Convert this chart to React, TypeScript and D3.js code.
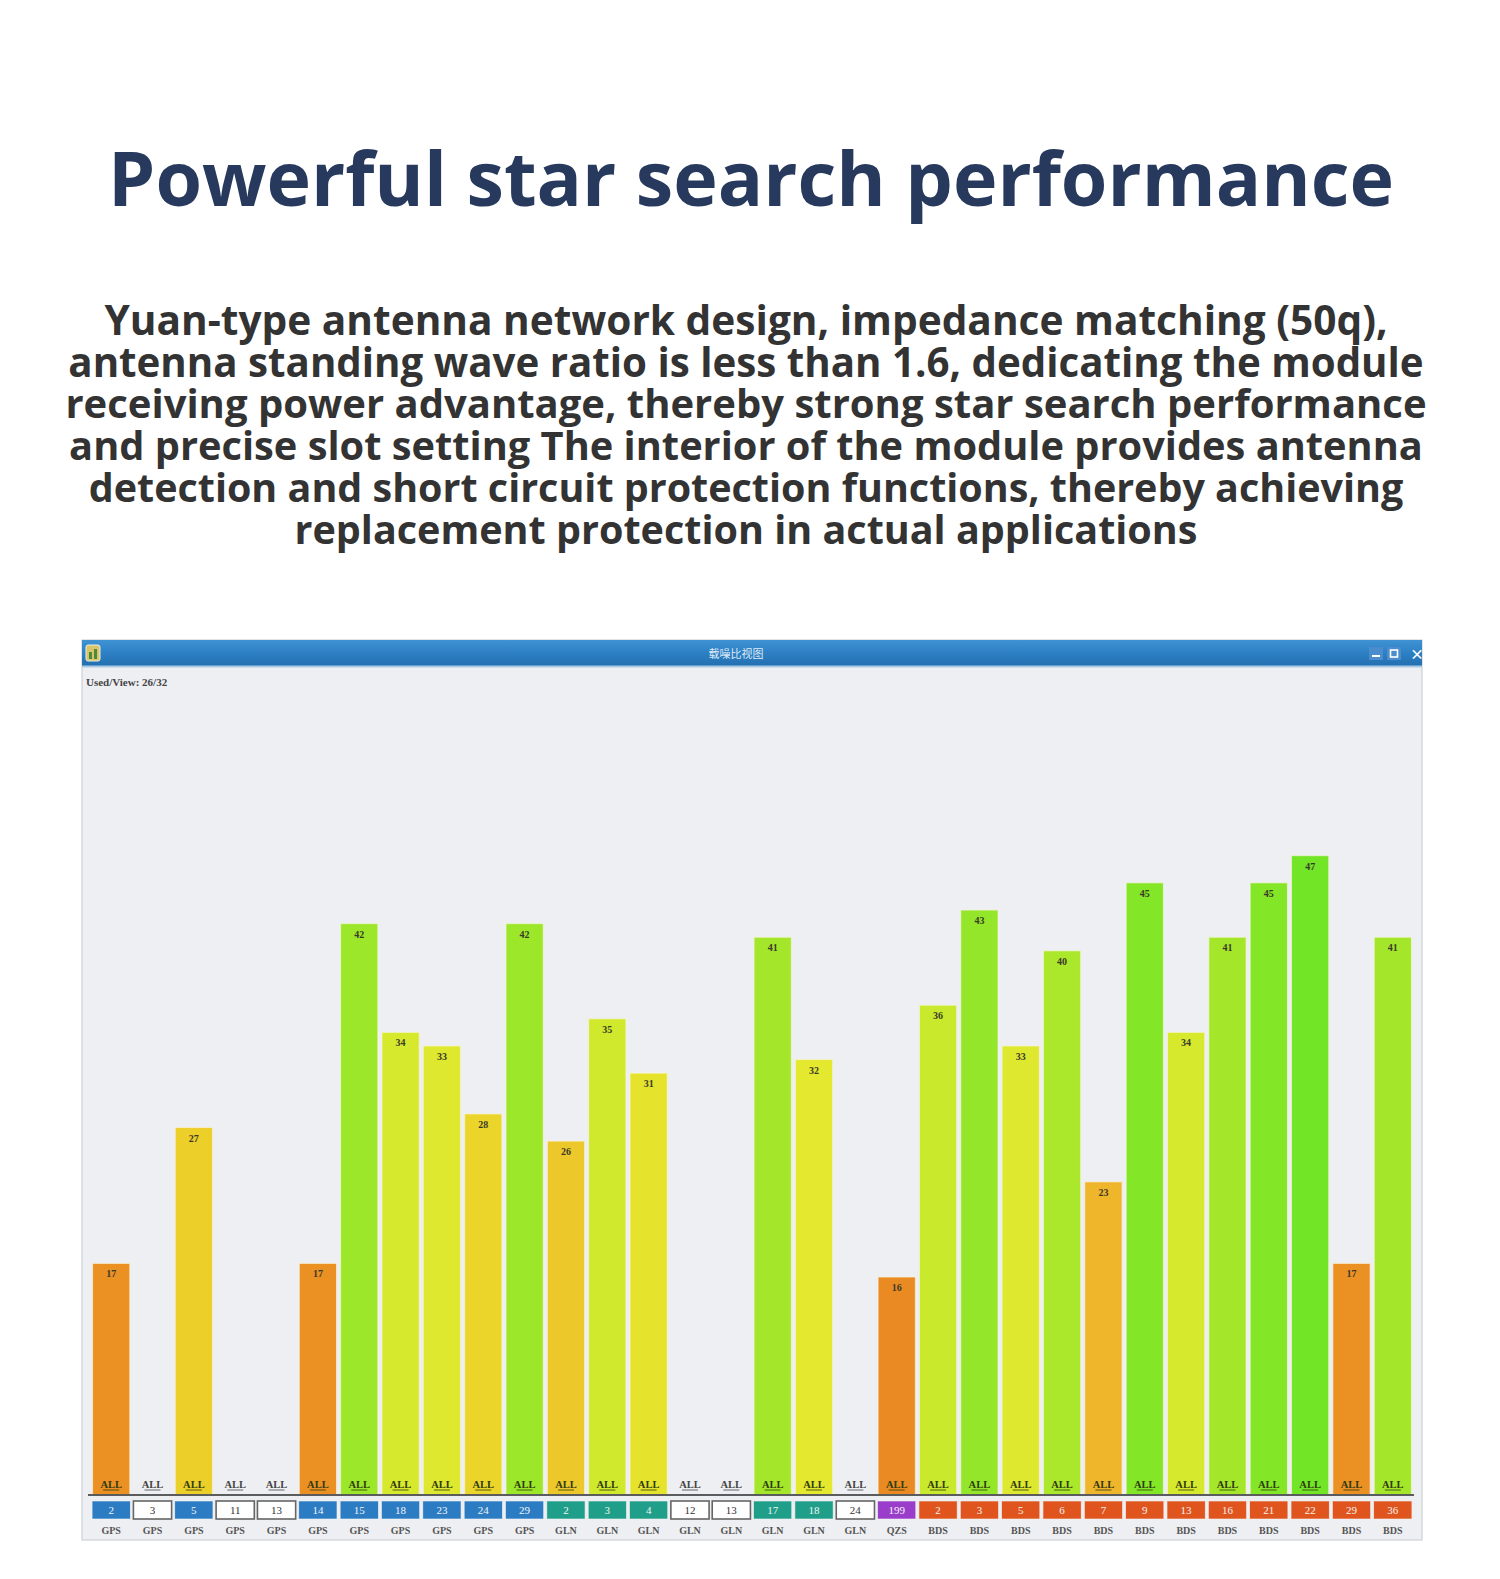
import * as d3 from "d3";
import React from "react";

// satellite list as shown in the viewer (left to right)
const systems = [
  "GPS", "GPS", "GPS", "GPS", "GPS", "GPS", "GPS", "GPS", "GPS", "GPS", "GPS",
  "GLN", "GLN", "GLN", "GLN", "GLN", "GLN", "GLN", "GLN",
  "QZS",
  "BDS", "BDS", "BDS", "BDS", "BDS", "BDS", "BDS", "BDS", "BDS", "BDS", "BDS", "BDS",
];
const prns = [
  2, 3, 5, 11, 13, 14, 15, 18, 23, 24, 29,
  2, 3, 4, 12, 13, 17, 18, 24,
  199,
  2, 3, 5, 6, 7, 9, 13, 16, 21, 22, 29, 36,
];
// carrier-to-noise values (0 = not tracked)
const cn0 = [
  17, 0, 27, 0, 0, 17, 42, 34, 33, 28, 42,
  26, 35, 31, 0, 0, 41, 32, 0,
  16,
  36, 43, 33, 40, 23, 45, 34, 41, 45, 47, 17, 41,
];

const titleText = "Powerful star search performance";
const bodyLines = [
  "Yuan-type antenna network design, impedance matching (50q),",
  "antenna standing wave ratio is less than 1.6, dedicating the module",
  "receiving power advantage, thereby strong star search performance",
  "and precise slot setting The interior of the module provides antenna",
  "detection and short circuit protection functions, thereby achieving",
  "replacement protection in actual applications",
];
// widths of the text lines in the reference
const bodyWidths = [1284, 1356, 1362, 1354, 1315, 903];
const titleWidth = 1286;

const sysColor: Record<string, string> = {
  GPS: "#2b7cc3",
  GLN: "#1f9f8a",
  QZS: "#9a3dcb",
  BDS: "#e0551e",
};

const W = 1500;
const H = 1579;
const win = { left: 82, right: 1422, top: 640, bar: 666, bottom: 1540 };
const baseY = 1494.5;
const headFont = "'Open Sans', 'Noto Sans', sans-serif";

// text that scales its font size so it spans the given width
const FitText: React.FC<{
  x: number;
  y: number;
  width: number;
  size: number;
  fill: string;
  children: string;
}> = ({ x, y, width, size, fill, children }) => {
  const ref = React.useRef<SVGTextElement | null>(null);
  const [fs, setFs] = React.useState(size);
  React.useLayoutEffect(() => {
    if (!ref.current) return;
    const len = ref.current.getComputedTextLength();
    if (len > 0) setFs((size * width) / len);
  }, [width, size, children]);
  return (
    <text
      ref={ref}
      x={x}
      y={y}
      textAnchor="middle"
      fontFamily={headFont}
      fontWeight={700}
      fontSize={fs}
      fill={fill}
    >
      {children}
    </text>
  );
};

export default function App() {
  const idx = prns.map((_, i) => i);
  const x = d3
    .scaleBand<number>()
    .domain(idx)
    .range([90.5, 1413.5])
    .paddingInner(0.1)
    .paddingOuter(0.05);
  const y = d3.scaleLinear().domain([0, 47]).range([baseY, 855.7]);
  const barColor = d3
    .scaleLinear<string>()
    .domain([16, 23, 28, 32, 36, 41, 47])
    .range(["#ea8a22", "#efb52b", "#ecd52a", "#e4e82e", "#c9e92c", "#a4e72a", "#72e526"])
    .clamp(true);
  const bw = x.bandwidth();
  const serif = "'Liberation Serif', 'DejaVu Serif', serif";
  const sans = "'Noto Sans CJK SC', 'Noto Sans', sans-serif";

  return (
    <svg
      width={W}
      height={H}
      style={{ position: "absolute", left: 0, top: 0, background: "#fff" }}
    >
      <defs>
        <linearGradient id="tbar" x1="0" y1="0" x2="0" y2="1">
          <stop offset="0" stopColor="#3f93d4" />
          <stop offset="0.5" stopColor="#2d80c4" />
          <stop offset="1" stopColor="#236fb0" />
        </linearGradient>
      </defs>

      <FitText x={751} y={206} width={titleWidth} size={80} fill="#273a5e">
        {titleText}
      </FitText>

      {bodyLines.map((t, i) => (
        <FitText key={i} x={746} y={335 + i * 41.7} width={bodyWidths[i]} size={38} fill="#333">
          {t}
        </FitText>
      ))}

      {/* viewer window */}
      <rect
        x={win.left}
        y={win.top}
        width={win.right - win.left}
        height={win.bottom - win.top}
        fill="#eeeff2"
        stroke="#c4c9cf"
      />
      <rect x={win.left} y={win.top} width={win.right - win.left} height={win.bar - win.top} fill="url(#tbar)" />
      <line x1={win.left} x2={win.right} y1={win.bar + 0.5} y2={win.bar + 0.5} stroke="#a9c9e6" strokeWidth={2} />
      <rect x={86} y={645} width={14} height={16} rx={2} fill="#d9c469" stroke="#e8efe0" />
      <rect x={89} y={652} width={3} height={7} fill="#4b8a3a" />
      <rect x={94} y={649} width={3} height={10} fill="#4b8a3a" />
      <text x={736} y={658} textAnchor="middle" fontFamily={sans} fontSize={11} fill="#dfeaf6">
        载噪比视图
      </text>
      <rect x={1369} y={647} width={14} height={13} fill="#4a8ccc" />
      <rect x={1372} y={655} width={8} height={2} fill="#fff" />
      <rect x={1387} y={647} width={14} height={13} fill="#4a8ccc" />
      <rect x={1390.5} y={650} width={7} height={7} fill="none" stroke="#fff" strokeWidth={1.6} />
      <text x={1410} y={659} fontFamily={sans} fontWeight={700} fontSize={14} fill="#fff">
        ×
      </text>

      <text x={86} y={686} fontFamily={serif} fontWeight={700} fontSize={11} fill="#444">
        Used/View: 26/32
      </text>

      {/* bars */}
      {idx.map((i) =>
        cn0[i] > 0 ? (
          <g key={`b${i}`}>
            <rect
              x={x(i)}
              y={y(cn0[i])}
              width={bw}
              height={baseY - y(cn0[i])}
              fill={barColor(cn0[i])}
              stroke="#f6f3d8"
              strokeOpacity={0.7}
              strokeWidth={1}
            />
            <text
              x={(x(i) as number) + bw / 2}
              y={y(cn0[i]) + 14}
              textAnchor="middle"
              fontFamily={serif}
              fontWeight={700}
              fontSize={10}
              fill="#3a3a2a"
            >
              {cn0[i]}
            </text>
          </g>
        ) : null
      )}

      {/* ALL labels */}
      {idx.map((i) => {
        const cx = (x(i) as number) + bw / 2;
        return (
          <g key={`a${i}`}>
            <text
              x={cx}
              y={1488}
              textAnchor="middle"
              fontFamily={serif}
              fontWeight={700}
              fontSize={10.5}
              fill={cn0[i] > 0 ? "#2f3a10" : "#444"}
            >
              ALL
            </text>
            <line x1={cx - 8} x2={cx + 8} y1={1490} y2={1490} stroke={cn0[i] > 0 ? "#2f3a10" : "#444"} strokeWidth={0.8} />
          </g>
        );
      })}

      <line x1={88} x2={1414} y1={baseY + 0.5} y2={baseY + 0.5} stroke="#5a5c5e" strokeWidth={2.2} />

      {/* PRN boxes */}
      {idx.map((i) => {
        const used = cn0[i] > 0;
        const bx = x(i) as number;
        return (
          <g key={`p${i}`}>
            <rect
              x={bx - 0.5}
              y={1501}
              width={bw + 1}
              height={18}
              fill={used ? sysColor[systems[i]] : "#fff"}
              stroke={used ? "#f0f0f0" : "#666"}
              strokeWidth={used ? 0.6 : 1.6}
            />
            <text
              x={bx + bw / 2}
              y={1514}
              textAnchor="middle"
              fontFamily={serif}
              fontSize={11}
              fill={used ? "#f3f3f3" : "#333"}
            >
              {prns[i]}
            </text>
            <text
              x={bx + bw / 2}
              y={1534}
              textAnchor="middle"
              fontFamily={serif}
              fontWeight={700}
              fontSize={10}
              fill="#555"
            >
              {systems[i]}
            </text>
          </g>
        );
      })}
    </svg>
  );
}
